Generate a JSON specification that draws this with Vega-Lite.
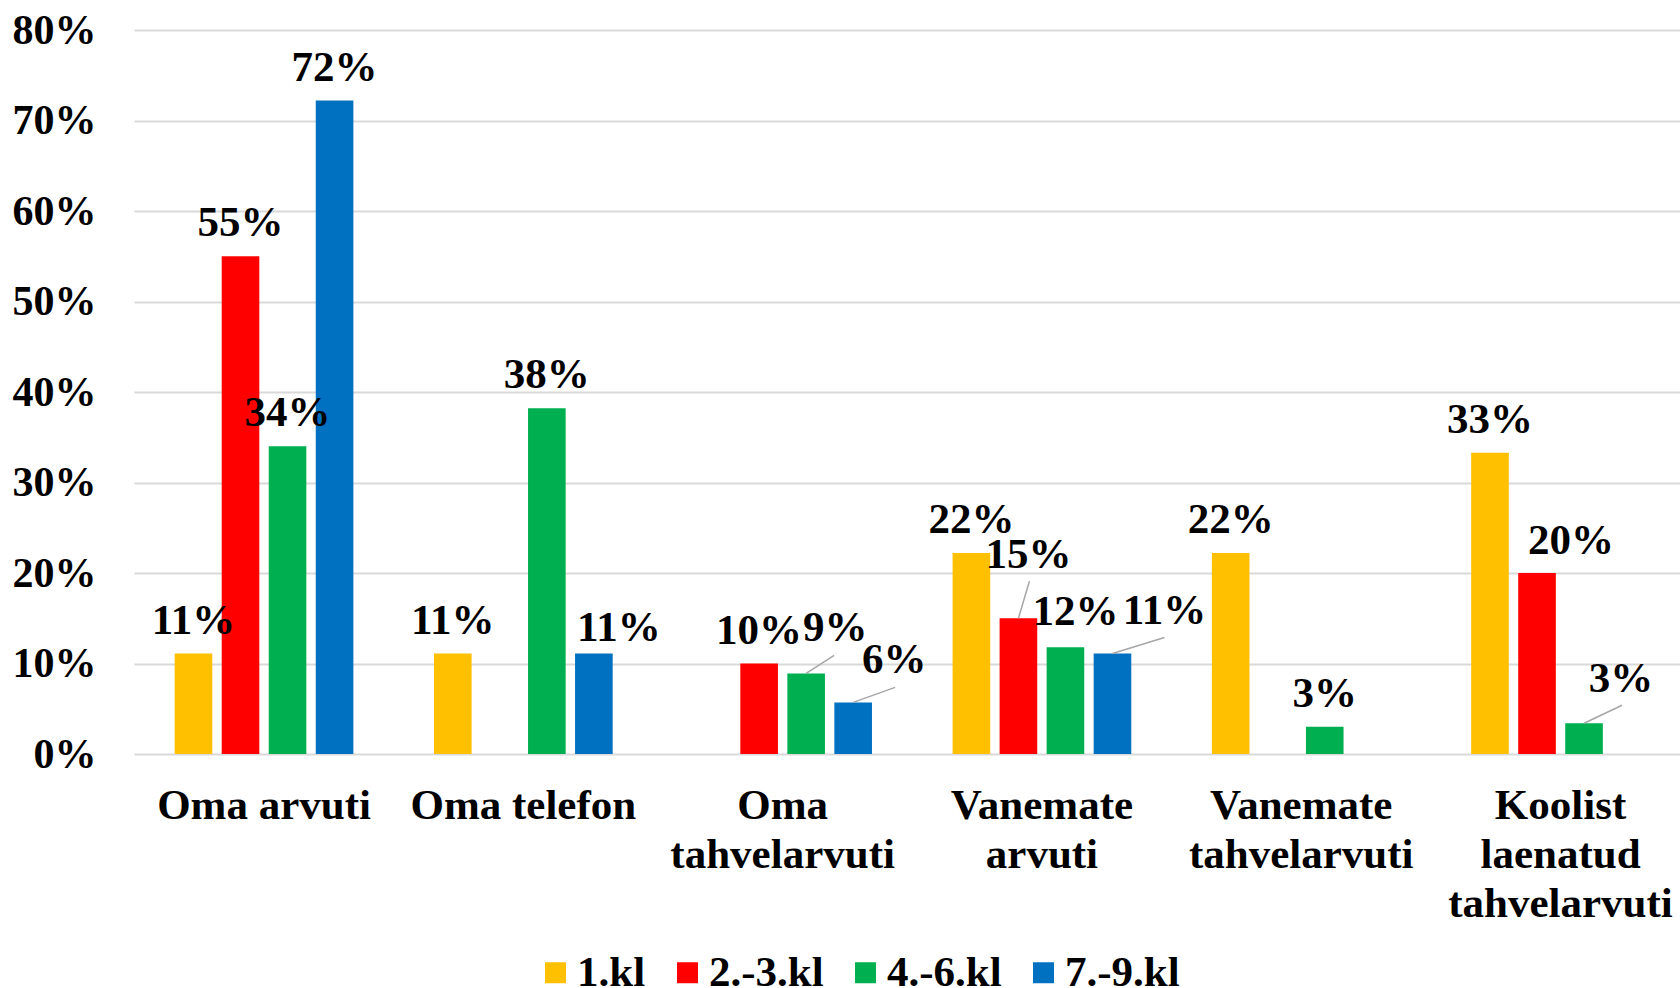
{
  "$schema": "https://vega.github.io/schema/vega-lite/v6.json",
  "width": 1546,
  "height": 724,
  "autosize": {"type": "none"},
  "padding": {"left": 134, "top": 30, "right": 0, "bottom": 234},
  "background": "white",
  "config": {
    "view": {"stroke": null},
    "font": "Liberation Serif",
    "text": {"font": "Liberation Serif", "fontWeight": "bold", "fontSize": 43, "color": "black"}
  },
  "data": {
    "values": [
      {"cat": "Oma arvuti", "series": "1.kl", "val": 0.111},
      {"cat": "Oma arvuti", "series": "2.-3.kl", "val": 0.55},
      {"cat": "Oma arvuti", "series": "4.-6.kl", "val": 0.34},
      {"cat": "Oma arvuti", "series": "7.-9.kl", "val": 0.722},
      {"cat": "Oma telefon", "series": "1.kl", "val": 0.111},
      {"cat": "Oma telefon", "series": "4.-6.kl", "val": 0.382},
      {"cat": "Oma telefon", "series": "7.-9.kl", "val": 0.111},
      {"cat": "Oma tahvelarvuti", "series": "2.-3.kl", "val": 0.1},
      {"cat": "Oma tahvelarvuti", "series": "4.-6.kl", "val": 0.089},
      {"cat": "Oma tahvelarvuti", "series": "7.-9.kl", "val": 0.057},
      {"cat": "Vanemate arvuti", "series": "1.kl", "val": 0.222},
      {"cat": "Vanemate arvuti", "series": "2.-3.kl", "val": 0.15},
      {"cat": "Vanemate arvuti", "series": "4.-6.kl", "val": 0.118},
      {"cat": "Vanemate arvuti", "series": "7.-9.kl", "val": 0.111},
      {"cat": "Vanemate tahvelarvuti", "series": "1.kl", "val": 0.222},
      {"cat": "Vanemate tahvelarvuti", "series": "4.-6.kl", "val": 0.03},
      {"cat": "Koolist laenatud tahvelarvuti", "series": "1.kl", "val": 0.333},
      {"cat": "Koolist laenatud tahvelarvuti", "series": "2.-3.kl", "val": 0.2},
      {"cat": "Koolist laenatud tahvelarvuti", "series": "4.-6.kl", "val": 0.034}
    ]
  },
  "encoding": {
    "x": {
      "field": "cat", "type": "nominal",
      "sort": ["Oma arvuti", "Oma telefon", "Oma tahvelarvuti", "Vanemate arvuti", "Vanemate tahvelarvuti", "Koolist laenatud tahvelarvuti"],
      "scale": {"paddingInner": 0.2746, "paddingOuter": 0.1184, "align": 0.586},
      "axis": {
        "title": null, "labelAngle": 0, "domain": false, "ticks": false,
        "labelFont": "Liberation Serif", "labelFontWeight": "bold", "labelFontSize": 43,
        "labelColor": "black", "labelPadding": 30, "labelLineHeight": 49, "labelLimit": 0,
        "labelExpr": "datum.value == 'Koolist laenatud tahvelarvuti' ? ['Koolist', 'laenatud', 'tahvelarvuti'] : (datum.value == 'Oma arvuti' || datum.value == 'Oma telefon') ? datum.value : split(datum.value, ' ')"
      }
    },
    "xOffset": {
      "field": "series", "type": "nominal",
      "scale": {"domain": ["1.kl", "2.-3.kl", "4.-6.kl", "7.-9.kl"], "paddingInner": 0.2, "paddingOuter": 0.1}
    },
    "y": {
      "field": "val", "type": "quantitative",
      "scale": {"domain": [0, 0.8], "nice": false},
      "axis": {
        "title": null, "format": ".0%", "values": [0, 0.1, 0.2, 0.3, 0.4, 0.5, 0.6, 0.7, 0.8],
        "domain": false, "ticks": false, "gridColor": "#d9d9d9", "gridWidth": 2,
        "labelFont": "Liberation Serif", "labelFontWeight": "bold", "labelFontSize": 42,
        "labelColor": "black", "labelPadding": 38
      }
    }
  },
  "layer": [
    {
      "mark": {"type": "bar"},
      "encoding": {
        "color": {
          "field": "series", "type": "nominal",
          "scale": {"domain": ["1.kl", "2.-3.kl", "4.-6.kl", "7.-9.kl"], "range": ["#FFC000", "#FF0000", "#00B050", "#0070C0"]},
          "legend": {
            "title": null, "orient": "none", "direction": "horizontal",
            "legendX": 400, "legendY": 921, "padding": 0,
            "symbolType": "square", "symbolSize": 441, "symbolStrokeWidth": 0, "symbolOpacity": 1,
            "labelFont": "Liberation Serif", "labelFontWeight": "bold", "labelFontSize": 43,
            "labelColor": "black", "labelOffset": 0, "columnPadding": 20, "labelLimit": 0
          }
        }
      }
    },
    {
      "transform": [{"filter": "!((datum.cat=='Oma telefon'&&datum.series=='7.-9.kl')||(datum.cat=='Oma tahvelarvuti'&&(datum.series=='4.-6.kl'||datum.series=='7.-9.kl'))||(datum.cat=='Vanemate arvuti'&&datum.series!='1.kl')||(datum.cat=='Koolist laenatud tahvelarvuti'&&datum.series!='1.kl'))"}],
      "mark": {"type": "text", "baseline": "alphabetic", "dy": -20},
      "encoding": {"text": {"field": "val", "type": "quantitative", "format": ".0%"}}
    },
    {
      "transform": [{"filter": "datum.cat=='Oma telefon'&&datum.series=='7.-9.kl'"}],
      "mark": {"type": "text", "baseline": "alphabetic", "dx": 25, "dy": -13},
      "encoding": {"text": {"field": "val", "type": "quantitative", "format": ".0%"}}
    },
    {
      "transform": [{"filter": "datum.cat=='Oma tahvelarvuti'&&datum.series=='4.-6.kl'"}],
      "mark": {"type": "text", "baseline": "alphabetic", "dx": 29, "dy": -32},
      "encoding": {"text": {"field": "val", "type": "quantitative", "format": ".0%"}}
    },
    {
      "transform": [{"filter": "datum.cat=='Oma tahvelarvuti'&&datum.series=='7.-9.kl'"}],
      "mark": {"type": "text", "baseline": "alphabetic", "dx": 41, "dy": -29},
      "encoding": {"text": {"field": "val", "type": "quantitative", "format": ".0%"}}
    },
    {
      "transform": [{"filter": "datum.cat=='Vanemate arvuti'&&datum.series=='2.-3.kl'"}],
      "mark": {"type": "text", "baseline": "alphabetic", "dx": 10, "dy": -50},
      "encoding": {"text": {"field": "val", "type": "quantitative", "format": ".0%"}}
    },
    {
      "transform": [{"filter": "datum.cat=='Vanemate arvuti'&&datum.series=='4.-6.kl'"}],
      "mark": {"type": "text", "baseline": "alphabetic", "dx": 10, "dy": -22},
      "encoding": {"text": {"field": "val", "type": "quantitative", "format": ".0%"}}
    },
    {
      "transform": [{"filter": "datum.cat=='Vanemate arvuti'&&datum.series=='7.-9.kl'"}],
      "mark": {"type": "text", "baseline": "alphabetic", "dx": 52, "dy": -30},
      "encoding": {"text": {"field": "val", "type": "quantitative", "format": ".0%"}}
    },
    {
      "transform": [{"filter": "datum.cat=='Koolist laenatud tahvelarvuti'&&datum.series=='2.-3.kl'"}],
      "mark": {"type": "text", "baseline": "alphabetic", "dx": 34, "dy": -19},
      "encoding": {"text": {"field": "val", "type": "quantitative", "format": ".0%"}}
    },
    {
      "transform": [{"filter": "datum.cat=='Koolist laenatud tahvelarvuti'&&datum.series=='4.-6.kl'"}],
      "mark": {"type": "text", "baseline": "alphabetic", "dx": 37, "dy": -31},
      "encoding": {"text": {"field": "val", "type": "quantitative", "format": ".0%"}}
    },
    {
      "transform": [{"filter": "datum.cat=='Oma tahvelarvuti'&&datum.series=='4.-6.kl'"}],
      "mark": {"type": "rule", "color": "#a6a6a6", "strokeWidth": 1.5, "x2Offset": 51.5, "y2Offset": -18},
      "encoding": {"x2": {"field": "cat"}, "y2": {"field": "val"}}
    },
    {
      "transform": [{"filter": "datum.cat=='Oma tahvelarvuti'&&datum.series=='7.-9.kl'"}],
      "mark": {"type": "rule", "color": "#a6a6a6", "strokeWidth": 1.5, "x2Offset": 112.5, "y2Offset": -15},
      "encoding": {"x2": {"field": "cat"}, "y2": {"field": "val"}}
    },
    {
      "transform": [{"filter": "datum.cat=='Vanemate arvuti'&&datum.series=='2.-3.kl'"}],
      "mark": {"type": "rule", "color": "#a6a6a6", "strokeWidth": 1.5, "x2Offset": -12.5, "y2Offset": -37},
      "encoding": {"x2": {"field": "cat"}, "y2": {"field": "val"}}
    },
    {
      "transform": [{"filter": "datum.cat=='Vanemate arvuti'&&datum.series=='7.-9.kl'"}],
      "mark": {"type": "rule", "color": "#a6a6a6", "strokeWidth": 1.5, "x2Offset": 122.5, "y2Offset": -16},
      "encoding": {"x2": {"field": "cat"}, "y2": {"field": "val"}}
    },
    {
      "transform": [{"filter": "datum.cat=='Koolist laenatud tahvelarvuti'&&datum.series=='4.-6.kl'"}],
      "mark": {"type": "rule", "color": "#a6a6a6", "strokeWidth": 1.5, "x2Offset": 61.5, "y2Offset": -18},
      "encoding": {"x2": {"field": "cat"}, "y2": {"field": "val"}}
    }
  ]
}
